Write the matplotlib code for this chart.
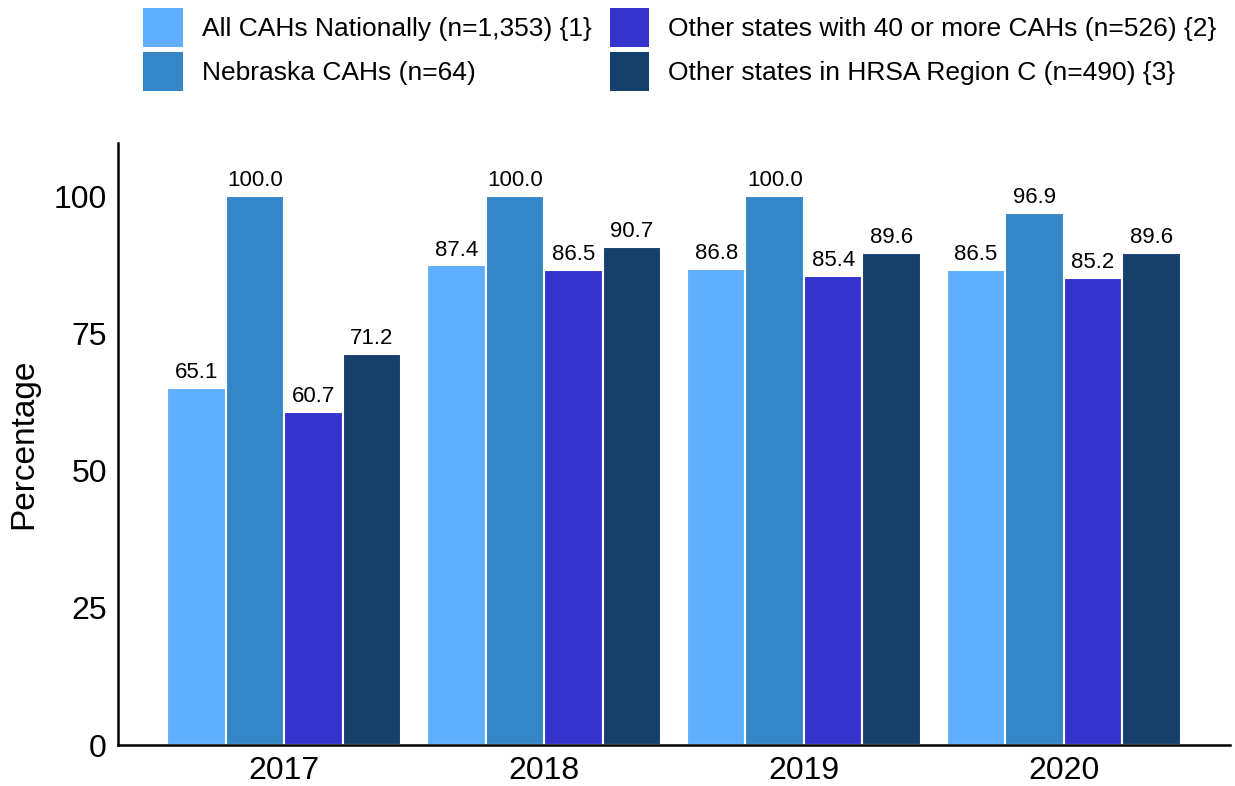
import matplotlib.pyplot as plt
import numpy as np
from matplotlib.patches import Patch

plt.rcParams['font.family'] = ['Liberation Sans', 'DejaVu Sans']

years = ['2017', '2018', '2019', '2020']
series_names = [
    'All CAHs Nationally (n=1,353) {1}',
    'Nebraska CAHs (n=64)',
    'Other states with 40 or more CAHs (n=526) {2}',
    'Other states in HRSA Region C (n=490) {3}',
]
all_cahs = [65.1, 87.4, 86.8, 86.5]
nebraska = [100.0, 100.0, 100.0, 96.9]
states_40 = [60.7, 86.5, 85.4, 85.2]
region_c = [71.2, 90.7, 89.6, 89.6]
colors = ['#60AFFE', '#3586C6', '#3434CC', '#16406C']

fig = plt.figure(figsize=(12.35, 7.86), dpi=100)
ax = fig.add_axes([0.0955, 0.052, 0.9005, 0.766])

x = np.arange(len(years))
slot = 0.225
series = [all_cahs, nebraska, states_40, region_c]
for i, vals in enumerate(series):
    pos = x + (i - 1.5) * slot
    bars = ax.bar(pos, vals, width=slot, color=colors[i], edgecolor='white', linewidth=1.5)
    for b, v in zip(bars, vals):
        ax.text(b.get_x() + b.get_width() / 2, v + 0.9, f'{v:.1f}',
                ha='center', va='bottom', fontsize=16)

ax.set_xlim(-0.64, 3.64)
ax.set_ylim(0, 109.7)
ax.set_yticks([0, 25, 50, 75, 100])
ax.set_xticks(x)
ax.set_xticklabels(years)
ax.tick_params(axis='both', length=0, labelsize=23)
ax.tick_params(axis='y', pad=8)
ax.tick_params(axis='x', pad=8)
ax.set_ylabel('Percentage', fontsize=24, labelpad=10)
for s in ['top', 'right']:
    ax.spines[s].set_visible(False)
for s in ['left', 'bottom']:
    ax.spines[s].set_linewidth(1.8)

handles = [Patch(facecolor=c, edgecolor='none') for c in colors]
fig.legend(handles, series_names, ncol=2, loc='upper left', bbox_to_anchor=(0.1053, 1.006),
           frameon=False, fontsize=19, handlelength=1.5, handleheight=1.85,
           handletextpad=0.72, columnspacing=0.68, labelspacing=0.22, borderpad=0)

fig.savefig('out.png', dpi=100)
